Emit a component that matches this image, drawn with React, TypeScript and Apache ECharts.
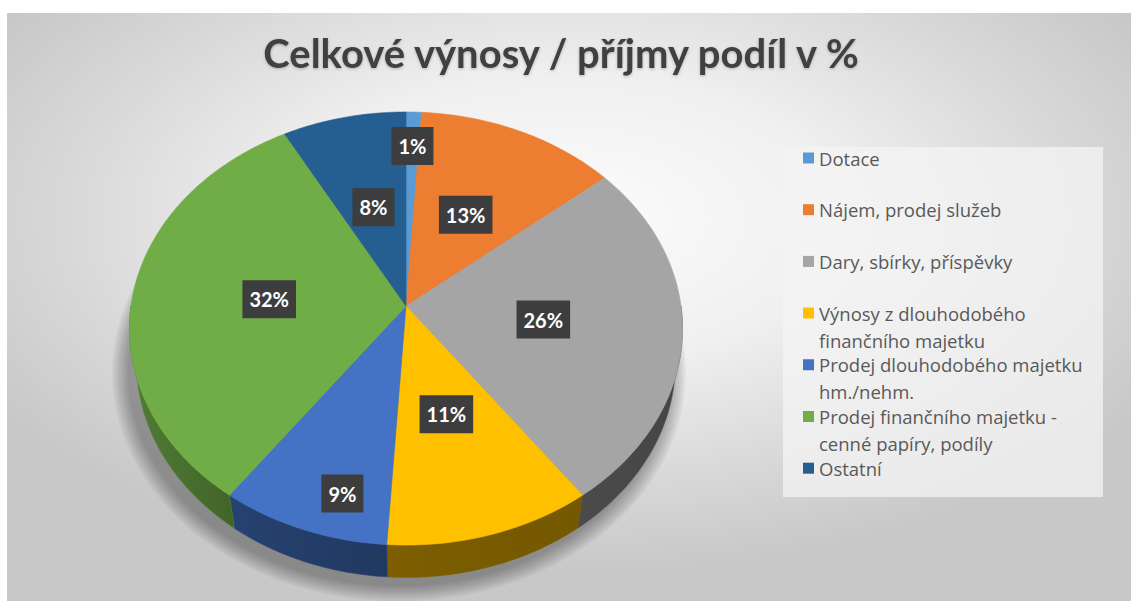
import React, { useEffect, useRef } from "react";
import * as echarts from "echarts";

// ---- data ----
const titleText = "Celkové výnosy / příjmy podíl v %";
const categories = [
  "Dotace",
  "Nájem, prodej služeb",
  "Dary, sbírky, příspěvky",
  "Výnosy z dlouhodobého\nfinančního majetku",
  "Prodej dlouhodobého majetku\nhm./nehm.",
  "Prodej finančního majetku -\ncenné papíry, podíly",
  "Ostatní",
];
const shares = [1, 13, 26, 11, 9, 32, 8];
const colors = ["#5B9BD5", "#ED7D31", "#A5A5A5", "#FFC000", "#4472C4", "#70AD47", "#255E91"];

// ---- layout / style constants ----
const labelRadius = [0.81, 0.5, 0.5, 0.5, 0.83, 0.5, 0.5];
const labelAngleShift = [0, 0, 0, 0, -5, 0, 0];
const sideShade: [number, number][] = [
  [90, 0.42], [130, 0.44], [165, 0.48], [200, 0.5], [225, 0.62], [250, 0.7], [270, 0.72],
];
const CX = 406, CY = 306, FX = 275, SY = 214.2, K = 0.104, KD = 0.0263, DY = 36.1;
const FONT = "Lato, 'Open Sans', sans-serif";
const LEGEND_FONT = "'Open Sans', Lato, sans-serif";

const DEG = Math.PI / 180;

function proj(theta: number, r: number, down: boolean): number[] {
  const X = r * Math.sin(theta);
  const Z = r * Math.cos(theta);
  const zc = 1 + K * Z + (down ? KD : 0);
  return [CX + (FX * X) / zc, CY - (SY * Z - (down ? DY : 0)) / zc];
}

function shadeAt(deg: number): number {
  for (let i = 0; i < sideShade.length - 1; i++) {
    const [a, fa] = sideShade[i];
    const [b, fb] = sideShade[i + 1];
    if (deg >= a && deg <= b) return fa + ((fb - fa) * (deg - a)) / (b - a);
  }
  return deg < 90 ? sideShade[0][1] : sideShade[sideShade.length - 1][1];
}

function darken(hex: string, f: number): string {
  const h = hex.replace("#", "");
  const r = Math.round(parseInt(h.slice(0, 2), 16) * f);
  const g = Math.round(parseInt(h.slice(2, 4), 16) * f);
  const b = Math.round(parseInt(h.slice(4, 6), 16) * f);
  return `rgb(${r},${g},${b})`;
}

export default function App() {
  const ref = useRef<HTMLDivElement>(null);

  useEffect(() => {
    document.body.style.margin = "0";
    if (!ref.current) return;
    const chart = echarts.init(ref.current, null, { renderer: "svg" });

    const total = shares.reduce((a, b) => a + b, 0);
    const bounds: number[][] = [];
    let acc = 0;
    shares.forEach((v) => {
      bounds.push([acc / total, (acc + v) / total]);
      acc += v;
    });

    const sliceSeries = categories.map((name, i) => ({
      type: "custom",
      name,
      coordinateSystem: "none",
      itemStyle: { color: colors[i] },
      silent: true,
      data: [bounds[i]],
      renderItem: (params: any, api: any) => {
        const a0 = api.value(0) * 2 * Math.PI;
        const a1 = api.value(1) * 2 * Math.PI;
        const color = colors[i];
        const children: any[] = [];
        const s0 = Math.max(a0, 90 * DEG);
        const s1 = Math.min(a1, 270 * DEG);
        if (s1 > s0) {
          const m = Math.max(2, Math.ceil((s1 - s0) / DEG));
          const upper: number[][] = [];
          const lower: number[][] = [];
          for (let k = 0; k <= m; k++) {
            const t = s0 + ((s1 - s0) * k) / m;
            upper.push(proj(t, 1, false));
            lower.push(proj(t, 1, true));
          }
          const pts = upper.concat(lower.reverse());
          const cL = darken(color, shadeAt(s1 / DEG));
          const cR = darken(color, shadeAt(s0 / DEG));
          children.push({
            type: "polygon",
            shape: { points: pts },
            style: {
              fill: new echarts.graphic.LinearGradient(0, 0, 1, 0, [
                { offset: 0, color: cL },
                { offset: 1, color: cR },
              ]),
              stroke: cL,
              lineWidth: 0.6,
            },
          });
        }
        const n = Math.max(2, Math.ceil((a1 - a0) / DEG));
        const top: number[][] = [proj(0, 0, false)];
        for (let k = 0; k <= n; k++) top.push(proj(a0 + ((a1 - a0) * k) / n, 1, false));
        children.push({
          type: "polygon",
          shape: { points: top },
          style: { fill: color, stroke: color, lineWidth: 0.6, lineJoin: "round" },
        });
        return { type: "group", children };
      },
    }));

    // soft shadow under the pie: stacked translucent outlines of the pie's base
    const shadowSeries = {
      type: "custom",
      coordinateSystem: "none",
      silent: true,
      data: [[0, 1]],
      renderItem: () => {
        const layers: any[] = [];
        const steps = 8;
        for (let s = steps; s >= 1; s--) {
          const grow = 1 + (s * 2.2) / FX;
          const pts: number[][] = [];
          for (let k = 0; k <= 360; k += 3) {
            const p = proj(k * DEG, grow, true);
            pts.push([p[0] - 7, p[1] + 7]);
          }
          layers.push({
            type: "polygon",
            shape: { points: pts },
            style: { fill: "rgba(0,0,0,0.045)" },
          });
        }
        return { type: "group", children: layers };
      },
    };

    const labelSeries = {
      type: "custom",
      coordinateSystem: "none",
      silent: true,
      z: 5,
      data: bounds.map((b, i) => [b[0], b[1], shares[i]]),
      renderItem: (params: any, api: any) => {
        const i = params.dataIndex;
        const mid = ((api.value(0) + api.value(1)) / 2) * 2 * Math.PI + labelAngleShift[i] * DEG;
        const p = proj(mid, labelRadius[i], false);
        return {
          type: "text",
          x: p[0],
          y: p[1],
          style: {
            text: `${api.value(2)}%`,
            fill: "#ffffff",
            fontFamily: FONT,
            fontSize: 20,
            fontWeight: "bold",
            align: "center",
            verticalAlign: "middle",
            backgroundColor: "#3d3d3d",
            padding: [9, 7, 9, 7],
            boxShadowBlur: 5,
            boxShadowColor: "rgba(0,0,0,0.55)",
            boxShadowOffsetX: 1,
            boxShadowOffsetY: 2,
          },
        };
      },
    };

    const legendCenterTop = 158;
    const legendStep = 51.7;
    const LH = 27;
    const legends = categories.map((name, i) => {
      const twoLine = name.includes("\n");
      return {
        data: [name],
        orient: "vertical",
        left: 803,
        top: legendCenterTop + i * legendStep - LH / 2,
        padding: 0,
        itemWidth: 11,
        itemHeight: twoLine ? 11 + LH : 11,
        itemGap: 0,
        icon: twoLine ? `path://M0,0L11,0L11,11L0,11Z M0,${11 + LH}L11,${11 + LH}` : "rect",
        selectedMode: false,
        textStyle: {
          fontFamily: LEGEND_FONT,
          fontSize: 18.5,
          color: "#595959",
          lineHeight: LH,
        },
      };
    });

    chart.setOption({
      animation: false,
      title: {
        text: titleText,
        left: 556,
        top: 28,
        textAlign: "center",
        textStyle: {
          fontFamily: FONT,
          fontSize: 40,
          fontWeight: "bold",
          color: "#404040",
          textShadowColor: "rgba(0,0,0,0.25)",
          textShadowBlur: 3,
          textShadowOffsetY: 1,
        },
      },
      legend: legends,
      graphic: [
        {
          type: "rect",
          x: 7,
          y: 13,
          scaleX: 1124 / 588,
          shape: { x: 0, y: 0, width: 588, height: 588 },
          style: {
            fill: new echarts.graphic.RadialGradient(0.5, 0.35, 0.6, [
              { offset: 0, color: "#fcfcfc" },
              { offset: 0.4, color: "#f0f0f0" },
              { offset: 0.75, color: "#d8d8d8" },
              { offset: 1, color: "#c8c8c8" },
            ]),
          },
          silent: true,
        },
        {
          type: "rect",
          shape: { x: 783, y: 147, width: 320, height: 350 },
          style: { fill: "rgba(244,244,244,0.75)" },
          silent: true,
        },
      ],
      series: [shadowSeries, ...sliceSeries, labelSeries],
    });

    return () => chart.dispose();
  }, []);

  return <div ref={ref} style={{ width: 1131, height: 601 }} />;
}
